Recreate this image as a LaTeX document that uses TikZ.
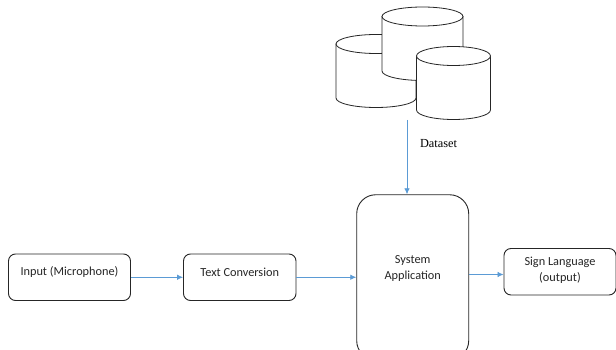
\documentclass[tikz,border=0pt]{standalone}
\usepackage{fontspec}
\setmainfont{Carlito}
\newfontfamily\serifface{Liberation Serif}
\usetikzlibrary{arrows.meta}
\tikzset{
  x=1pt,y=-1pt,
  flowbox/.style={draw=black!85,line width=0.9pt,rounded corners=7pt,fill=white,inner sep=0pt},
  bigbox/.style={flowbox,rounded corners=19pt},
  lab/.style={font=\fontsize{12.3}{16}\selectfont,text=black!85,align=center,inner sep=0pt},
  flow/.style={draw=arrowblue,line width=0.8pt,-{Latex[length=6pt,width=5.5pt]}},
  drum/.style={draw=black!85,line width=0.8pt,fill=white},
}
\definecolor{arrowblue}{HTML}{5B9BD5}
\newcommand{\drumshape}[4]{% left x, top-ellipse centre y, bottom straight y, half-width
  \draw[drum] (#1,#2) -- (#1,#3) arc[start angle=180,end angle=0,x radius=#4,y radius=9.5]
     -- ({#1+2*#4},#2) -- cycle;
  \draw[drum] ({#1+#4},#2) ellipse[x radius=#4,y radius=9.5];
}
\begin{document}
\begin{tikzpicture}
\useasboundingbox (0,0) rectangle (616,350);
\clip (0,0) rectangle (616,350);
\fill[white] (0,0) rectangle (616,350);
\drumshape{336}{44}{98}{40}
\drumshape{382}{16.5}{71}{40.5}
\drumshape{416.5}{56}{110}{37}
\node[flowbox,minimum width=122pt,minimum height=46.5pt,label={[lab,yshift=5pt]center:Input (Microphone)}] (inp) at (69.5,277.25) {};
\node[flowbox,minimum width=112.5pt,minimum height=46.5pt,label={[lab,yshift=5pt]center:Text Conversion}] (txt) at (239.75,277.25) {};
\node[bigbox,minimum width=112pt,minimum height=165pt,label={[lab,yshift=9pt]center:System\\Application}] (sys) at (412.7,277.25) {};
\node[flowbox,minimum width=112pt,minimum height=46.5pt,label={[lab,yshift=1pt]center:Sign Language\\(output)}] (out) at (560,271.75) {};
\coordinate (dstop) at (407,120);
\node[font=\serifface\fontsize{12.3}{14}\selectfont,text=black,inner sep=0pt] (dslab) at (438.5,143.5) {Dataset};
\draw[flow] (inp.east) -- (txt.west);
\draw[flow] (txt.east) -- (sys.west);
\draw[flow] ([yshift=2.75pt]sys.east) -- ([yshift=-2.75pt]out.west);
\draw[flow] (dstop) -- (dstop |- sys.north);
\end{tikzpicture}
\end{document}
